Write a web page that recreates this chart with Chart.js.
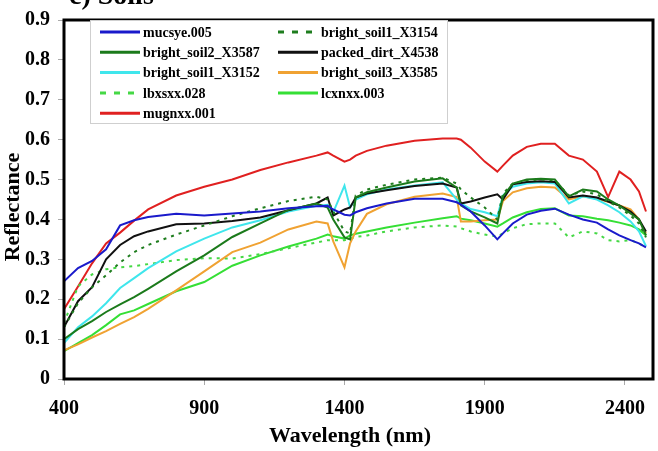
<!DOCTYPE html>
<html>
<head>
<meta charset="utf-8">
<script src="https://cdn.jsdelivr.net/npm/chart.js@4.4.0/dist/chart.umd.min.js"></script>
<style>
  body { margin: 0; background: #fff; }
  #wrap { width: 658px; height: 451px; position: relative; }
</style>
</head>
<body>
<div id="wrap"><canvas id="chart"></canvas></div>
<script>
'use strict'

// ************* Data ****************
let wavelengths = [400, 450, 500, 550, 600, 650, 700, 800, 900, 1000, 1100, 1200, 1300, 1340, 1360, 1400, 1420, 1440, 1480, 1550,
  1650, 1750, 1800, 1815, 1850, 1900, 1945, 1965, 2000, 2050, 2100, 2150, 2200, 2250, 2300, 2340, 2380, 2420, 2450, 2475];

let mucsye005 = [0.245, 0.278, 0.296, 0.325, 0.385, 0.398, 0.406, 0.414, 0.41, 0.415, 0.42, 0.428, 0.433, 0.434, 0.425, 0.412, 0.41, 0.418, 0.428, 0.44,
  0.452, 0.452, 0.443, 0.437, 0.42, 0.385, 0.35, 0.365, 0.39, 0.412, 0.422, 0.427, 0.412, 0.4, 0.392, 0.375, 0.36, 0.348, 0.34, 0.33];
let soil1X3154 = [0.13, 0.19, 0.23, 0.26, 0.292, 0.318, 0.336, 0.362, 0.385, 0.408, 0.428, 0.446, 0.457, 0.45, 0.42, 0.37, 0.365, 0.46, 0.475, 0.487,
  0.5, 0.505, 0.49, 0.475, 0.455, 0.43, 0.4, 0.465, 0.49, 0.498, 0.5, 0.498, 0.46, 0.47, 0.463, 0.445, 0.43, 0.41, 0.39, 0.355];
let soil2X3587 = [0.1, 0.125, 0.145, 0.168, 0.187, 0.205, 0.226, 0.27, 0.31, 0.356, 0.39, 0.424, 0.44, 0.43, 0.4, 0.355, 0.35, 0.455, 0.468, 0.48,
  0.495, 0.503, 0.48, 0.435, 0.42, 0.405, 0.39, 0.458, 0.49, 0.5, 0.502, 0.5, 0.458, 0.475, 0.47, 0.45, 0.435, 0.415, 0.4, 0.36];
let packedDirtX4538 = [0.13, 0.195, 0.23, 0.3, 0.336, 0.358, 0.37, 0.388, 0.39, 0.396, 0.405, 0.423, 0.44, 0.455, 0.41, 0.425, 0.43, 0.455, 0.465, 0.473,
  0.484, 0.49, 0.48, 0.44, 0.445, 0.455, 0.463, 0.45, 0.488, 0.494, 0.496, 0.494, 0.455, 0.46, 0.455, 0.445, 0.435, 0.42, 0.4, 0.37];
let soil1X3152 = [0.09, 0.13, 0.157, 0.19, 0.228, 0.253, 0.278, 0.32, 0.352, 0.38, 0.398, 0.42, 0.434, 0.437, 0.418, 0.485, 0.43, 0.45, 0.463, 0.475,
  0.485, 0.493, 0.45, 0.44, 0.426, 0.418, 0.408, 0.46, 0.482, 0.49, 0.493, 0.49, 0.44, 0.458, 0.45, 0.435, 0.418, 0.395, 0.37, 0.333];
let soil3X3585 = [0.072, 0.087, 0.104, 0.12, 0.138, 0.155, 0.176, 0.222, 0.27, 0.318, 0.342, 0.375, 0.395, 0.39, 0.345, 0.28, 0.34, 0.37, 0.414, 0.438,
  0.457, 0.465, 0.456, 0.395, 0.395, 0.398, 0.4, 0.446, 0.468, 0.478, 0.482, 0.48, 0.45, 0.458, 0.452, 0.444, 0.435, 0.425, 0.4, 0.365];
let lbxsxx028 = [0.14, 0.232, 0.262, 0.275, 0.28, 0.283, 0.288, 0.298, 0.303, 0.302, 0.313, 0.328, 0.342, 0.348, 0.348, 0.348, 0.352, 0.356, 0.36, 0.37,
  0.38, 0.385, 0.382, 0.378, 0.37, 0.362, 0.357, 0.365, 0.378, 0.388, 0.39, 0.39, 0.355, 0.37, 0.365, 0.348, 0.345, 0.348, 0.34, 0.33];
let lcxnxx003 = [0.07, 0.09, 0.11, 0.135, 0.162, 0.172, 0.188, 0.22, 0.243, 0.284, 0.31, 0.332, 0.352, 0.362, 0.358, 0.352, 0.36, 0.364, 0.37, 0.38,
  0.392, 0.403, 0.408, 0.402, 0.398, 0.39, 0.382, 0.39, 0.405, 0.418, 0.426, 0.428, 0.41, 0.408, 0.402, 0.398, 0.392, 0.385, 0.375, 0.36];
let mugnxx001 = [0.175, 0.232, 0.29, 0.34, 0.367, 0.397, 0.425, 0.46, 0.482, 0.5, 0.524, 0.543, 0.56, 0.568, 0.56, 0.545, 0.55, 0.56, 0.572, 0.585,
  0.597, 0.603, 0.603, 0.6, 0.58, 0.545, 0.52, 0.535, 0.56, 0.582, 0.59, 0.59, 0.56, 0.55, 0.52, 0.456, 0.52, 0.5, 0.47, 0.42];

let seriesNames = ['mucsye.005', 'bright_soil1_X3154', 'bright_soil2_X3587', 'packed_dirt_X4538', 'bright_soil1_X3152',
  'bright_soil3_X3585', 'lbxsxx.028', 'lcxnxx.003', 'mugnxx.001'];
let seriesValues = [mucsye005, soil1X3154, soil2X3587, packedDirtX4538, soil1X3152, soil3X3585, lbxsxx028, lcxnxx003, mugnxx001];
let seriesColors = ['#1a1acb', '#1e7d1e', '#1b7a1b', '#111111', '#3fe6ec', '#f0a232', '#45d845', '#35df35', '#e02020'];
let seriesDashed = [false, true, false, false, false, false, true, false, false];

let xTicks = [400, 900, 1400, 1900, 2400];
let yTicks = [0, 0.1, 0.2, 0.3, 0.4, 0.5, 0.6, 0.7, 0.8, 0.9];

const FONT = '"Liberation Serif", "Times New Roman", serif';

// ************ Build datasets **************
function buildDatasets() {
  let sets = [];
  for (let i = 0; i < seriesNames.length; i++) {
    sets.push({
      label: seriesNames[i],
      data: wavelengths.map((w, j) => ({ x: w, y: seriesValues[i][j] })),
      borderColor: seriesColors[i],
      borderWidth: 2,
      borderDash: seriesDashed[i] ? [3, 5] : [],
      pointRadius: 0,
      tension: 0,
      fill: false
    });
  }
  return sets;
}

// ************ Plugins **************
const framePlugin = {
  id: 'frame',
  afterDatasetsDraw(chart) {
    let ctx = chart.ctx;
    let a = chart.chartArea;
    ctx.save();
    ctx.strokeStyle = '#000';
    ctx.lineWidth = 3;
    ctx.strokeRect(a.left, a.top, a.right - a.left, a.bottom - a.top);
    ctx.restore();
  }
};

const textPlugin = {
  id: 'texts',
  afterDraw(chart) {
    let ctx = chart.ctx;
    ctx.save();
    ctx.fillStyle = '#000';
    // panel title, cut off by the top edge like in the source figure
    ctx.font = 'bold 28px ' + FONT;
    ctx.textAlign = 'left';
    ctx.textBaseline = 'alphabetic';
    ctx.fillText('c) Soils', 69, 4);
    // axis titles
    ctx.font = 'bold 22px ' + FONT;
    ctx.textAlign = 'center';
    ctx.textBaseline = 'middle';
    ctx.fillText('Wavelength (nm)', 350, 436);
    ctx.translate(13, 207);
    ctx.rotate(-Math.PI / 2);
    ctx.fillText('Reflectance', 0, 0);
    ctx.restore();
  }
};

const legendPlugin = {
  id: 'boxLegend',
  afterDatasetsDraw(chart) {
    let ctx = chart.ctx;
    ctx.save();
    ctx.fillStyle = '#fff';
    ctx.fillRect(90, 20, 357, 103);
    ctx.strokeStyle = '#cfcfcf';
    ctx.lineWidth = 1;
    ctx.strokeRect(90.5, 20.5, 357, 103);
    ctx.font = 'bold 14px ' + FONT;
    ctx.textBaseline = 'middle';
    ctx.textAlign = 'left';
    let colX = [100, 278];
    for (let i = 0; i < seriesNames.length; i++) {
      let col = i % 2;
      let row = Math.floor(i / 2);
      let y = 32 + row * 20.3;
      let x = colX[col];
      ctx.strokeStyle = seriesColors[i];
      ctx.lineWidth = 3;
      ctx.setLineDash(seriesDashed[i] ? [6, 8] : []);
      ctx.beginPath();
      ctx.moveTo(x, y);
      ctx.lineTo(x + 40, y);
      ctx.stroke();
      ctx.setLineDash([]);
      ctx.fillStyle = '#000';
      ctx.fillText(seriesNames[i], x + 43, y + 1);
    }
    ctx.restore();
  }
};

// ************ Chart **************
let chart = new Chart(document.getElementById('chart'), {
  type: 'line',
  data: { datasets: buildDatasets() },
  options: {
    responsive: true,
    maintainAspectRatio: false,
    animation: false,
    layout: { padding: { top: 11, right: 5, left: 0, bottom: 0 } },
    plugins: { legend: { display: false }, tooltip: { enabled: false } },
    scales: {
      x: {
        type: 'linear',
        min: 400,
        max: 2500,
        afterBuildTicks: (scale) => { scale.ticks = xTicks.map(v => ({ value: v })); },
        afterFit: (scale) => { scale.height = 72; },
        grid: { drawOnChartArea: false, drawTicks: true, tickLength: 6, color: '#aaa' },
        border: { display: false },
        ticks: {
          color: '#000', padding: 12, maxRotation: 0,
          font: { family: FONT, size: 20, weight: 'bold' },
          callback: (v) => String(v)
        }
      },
      y: {
        min: 0,
        max: 0.9,
        afterBuildTicks: (scale) => { scale.ticks = yTicks.map(v => ({ value: v })); },
        afterFit: (scale) => { scale.width = 64; },
        grid: { drawOnChartArea: false, drawTicks: true, tickLength: 6, color: '#aaa' },
        border: { display: false },
        ticks: {
          color: '#000', padding: 8,
          font: { family: FONT, size: 20, weight: 'bold' },
          callback: (v) => (Math.round(v * 10) / 10).toString()
        }
      }
    }
  },
  plugins: [framePlugin, legendPlugin, textPlugin]
});
</script>
</body>
</html>
